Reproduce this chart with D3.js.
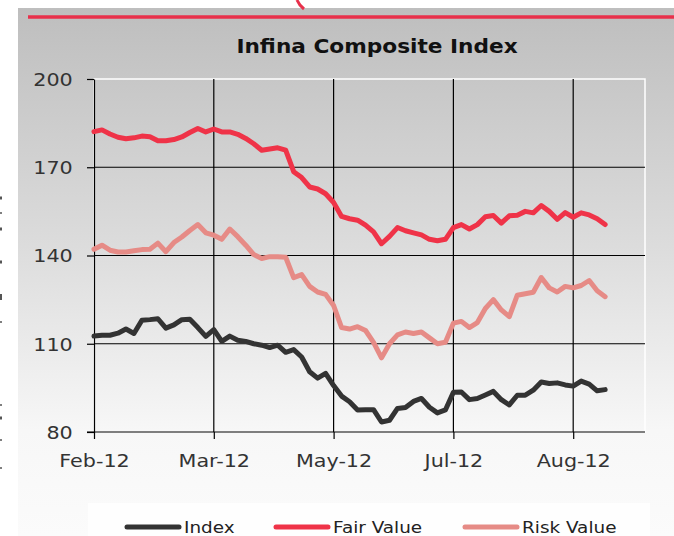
<!DOCTYPE html>
<html>
<head>
<meta charset="utf-8">
<script src="https://cdn.jsdelivr.net/npm/d3@7/dist/d3.min.js"></script>
<style>
  body { margin: 0; background: #fff; }
  svg { display: block; font-family: "DejaVu Sans", Verdana, sans-serif; }
</style>
</head>
<body>
<svg width="674" height="536"></svg>
<script>
// tick labels on the category axis (every 15 points)
var tickLabels = ["Feb-12", "Mar-12", "May-12", "Jul-12", "Aug-12"];
var tickIndex = [0, 15, 30, 45, 60];
var yTicks = [80, 110, 140, 170, 200];

// series values, one point every ~2 trading days
var indexValues = [
  112.6, 112.9, 112.9, 113.6, 115.0, 113.5, 118.0, 118.2, 118.5, 115.3,
  116.4, 118.2, 118.3, 115.5, 112.5, 114.8, 110.8, 112.6, 111.2, 110.8,
  110.0, 109.5, 108.7, 109.5, 107.1, 108.0, 105.5, 100.5, 98.3, 99.9,
  95.8, 92.2, 90.3, 87.5, 87.6, 87.6, 83.4, 84.0, 88.0, 88.3,
  90.4, 91.4, 88.4, 86.5, 87.5, 93.5, 93.6, 91.0, 91.4, 92.6,
  93.8, 91.0, 89.2, 92.5, 92.5, 94.2, 97.0, 96.5, 96.7, 96.0,
  95.6, 97.3, 96.3, 94.0, 94.4
];
var fairValues = [
  182.1, 182.7, 181.3, 180.2, 179.7, 180.0, 180.6, 180.4, 179.0, 179.0,
  179.4, 180.3, 181.8, 183.2, 182.0, 183.0, 182.0, 182.0, 181.2, 179.8,
  178.0, 175.8, 176.2, 176.6, 175.8, 168.5, 166.5, 163.3, 162.6, 161.0,
  158.0, 153.3, 152.5, 152.0, 150.3, 148.0, 144.0, 146.5, 149.5, 148.4,
  147.7, 147.0, 145.5, 145.0, 145.5, 149.5, 150.5, 149.0, 150.5, 153.2,
  153.6, 151.0, 153.5, 153.7, 155.0, 154.5, 157.0, 155.0, 152.3, 154.6,
  153.0, 154.5, 153.8, 152.5, 150.5
];
var riskValues = [
  142.1, 143.5, 141.8, 141.2, 141.2, 141.6, 142.0, 142.1, 144.2, 141.3,
  144.4, 146.3, 148.5, 150.5, 147.7, 146.9, 145.5, 149.0, 146.4, 143.5,
  140.3, 139.0, 139.6, 139.6, 139.4, 132.5, 133.5, 129.5, 127.6, 126.8,
  123.0, 115.5, 115.0, 115.8, 114.5, 110.5, 105.2, 110.0, 113.0, 114.0,
  113.5, 114.0, 112.0, 110.0, 110.5, 117.0, 117.6, 115.5, 117.2, 122.0,
  125.0, 121.5, 119.2, 126.5, 127.0, 127.5, 132.5, 129.0, 127.6, 129.5,
  129.0, 129.8, 131.5, 128.0, 126.0
];

var seriesNames = ["Index", "Fair Value", "Risk Value"];
var seriesColors = ["#333333", "#ef3348", "#e68b86"];
var seriesData = [indexValues, fairValues, riskValues];

var svg = d3.select("svg");

// layout
var plotLeft = 94, plotRight = 645, plotTop = 79, plotBottom = 432;

var x = d3.scaleLinear().domain([0, 15]).range([plotLeft, 213.8]);
var y = d3.scaleLinear().domain([80, 200]).range([plotBottom, plotTop]);

// background gradient
var defs = svg.append("defs");
var grad = defs.append("linearGradient")
  .attr("id", "bg").attr("x1", 0).attr("y1", 0).attr("x2", 0).attr("y2", 1);
grad.append("stop").attr("offset", "0%").attr("stop-color", "#bebebe");
grad.append("stop").attr("offset", "45%").attr("stop-color", "#dcdcdc");
grad.append("stop").attr("offset", "80%").attr("stop-color", "#f7f7f7");
grad.append("stop").attr("offset", "100%").attr("stop-color", "#fbfbfb");

svg.append("rect")
  .attr("x", 18).attr("y", 8).attr("width", 674 - 18).attr("height", 536 - 8)
  .attr("fill", "url(#bg)");

// red rule on top + small bit of a logo
svg.append("line")
  .attr("x1", 28).attr("x2", 674).attr("y1", 17).attr("y2", 17)
  .attr("stroke", "#e8304b").attr("stroke-width", 3.5);
svg.append("path")
  .attr("d", "M297,0 Q299,5 304,9")
  .attr("fill", "none").attr("stroke", "#e8304b").attr("stroke-width", 3);

// bits of clipped page text on the left edge (drawn as small marks)
var edgeY = [198, 213, 229, 262, 297, 322, 405, 418, 440, 468];
var edgeH = [3, 1.5, 3, 3, 6, 1.5, 1.5, 3, 1.5, 1.5];
svg.append("g")
  .selectAll("rect")
  .data(edgeY)
  .enter().append("rect")
  .attr("x", 0)
  .attr("y", function(d, i) { return d - edgeH[i] / 2; })
  .attr("width", 2)
  .attr("height", function(d, i) { return edgeH[i]; })
  .attr("fill", "#555");

// title
svg.append("text")
  .attr("transform", "translate(377,53) scale(1.14,1)")
  .attr("text-anchor", "middle")
  .attr("font-weight", "bold")
  .attr("font-size", 19)
  .attr("fill", "#111")
  .text("Infina Composite Index");

// plot area border (white)
svg.append("rect")
  .attr("x", plotLeft).attr("y", plotTop)
  .attr("width", plotRight - plotLeft).attr("height", plotBottom - plotTop)
  .attr("fill", "none").attr("stroke", "#fff").attr("stroke-width", 1.5);

// horizontal grid
svg.append("g")
  .selectAll("line")
  .data(yTicks.filter(function(d) { return d > 80 && d < 200; }))
  .enter().append("line")
  .attr("x1", plotLeft).attr("x2", plotRight)
  .attr("y1", function(d) { return y(d); })
  .attr("y2", function(d) { return y(d); })
  .attr("stroke", "#000").attr("stroke-width", 1.2);

// vertical grid
svg.append("g")
  .selectAll("line")
  .data(tickIndex.slice(1))
  .enter().append("line")
  .attr("x1", function(d) { return x(d); })
  .attr("x2", function(d) { return x(d); })
  .attr("y1", plotTop).attr("y2", plotBottom)
  .attr("stroke", "#000").attr("stroke-width", 1.2);

// y axis
var yAxis = svg.append("g")
  .attr("transform", "translate(" + plotLeft + ",0)")
  .call(d3.axisLeft(y).tickValues(yTicks).tickSize(7).tickSizeOuter(0));
yAxis.select(".domain").attr("stroke", "#000").attr("stroke-width", 1.2);
yAxis.selectAll(".tick line").attr("stroke", "#000").attr("stroke-width", 1.2);
yAxis.selectAll(".tick text")
  .attr("x", -18.5)
  .attr("dy", "0.36em")
  .attr("transform", "scale(1.15,1)")
  .attr("font-size", 18)
  .attr("font-family", "DejaVu Sans, sans-serif")
  .attr("fill", "#333");

// x axis
var xAxis = svg.append("g")
  .attr("transform", "translate(0," + plotBottom + ")")
  .call(d3.axisBottom(x).tickValues(tickIndex)
    .tickFormat(function(d, i) { return tickLabels[i]; })
    .tickSize(7).tickSizeOuter(0));
xAxis.select(".domain").attr("d", "M" + (plotLeft - 7) + ",0H" + plotRight)
  .attr("stroke", "#000").attr("stroke-width", 1.2);
xAxis.selectAll(".tick line").attr("stroke", "#000").attr("stroke-width", 1.2);
xAxis.selectAll(".tick text")
  .attr("y", 35)
  .attr("dy", 0)
  .attr("transform", "scale(1.15,1)")
  .attr("font-size", 18)
  .attr("font-family", "DejaVu Sans, sans-serif")
  .attr("fill", "#333");

// series lines
var line = d3.line()
  .x(function(d, i) { return x(i); })
  .y(function(d) { return y(d); });

svg.append("g")
  .selectAll("path")
  .data([riskValues, fairValues, indexValues])
  .enter().append("path")
  .attr("d", line)
  .attr("fill", "none")
  .attr("stroke", function(d) { return seriesColors[seriesData.indexOf(d)]; })
  .attr("stroke-width", 5)
  .attr("stroke-linejoin", "round")
  .attr("stroke-linecap", "round");

// legend
svg.append("rect")
  .attr("x", 88).attr("y", 503).attr("width", 562).attr("height", 40)
  .attr("fill", "#fefefe");

var legendX = [127, 276, 465];
var legend = svg.append("g")
  .selectAll("g")
  .data(seriesNames)
  .enter().append("g")
  .attr("transform", function(d, i) { return "translate(" + legendX[i] + ",527)"; });
legend.append("line")
  .attr("x1", 0).attr("x2", 52)
  .attr("stroke", function(d, i) { return seriesColors[i]; })
  .attr("stroke-width", 5).attr("stroke-linecap", "round");
legend.append("text")
  .attr("transform", "translate(57,0) scale(1.15,1)")
  .attr("dy", "0.35em")
  .attr("font-size", 16)
  .attr("fill", "#222")
  .text(function(d) { return d; });
</script>
</body>
</html>
